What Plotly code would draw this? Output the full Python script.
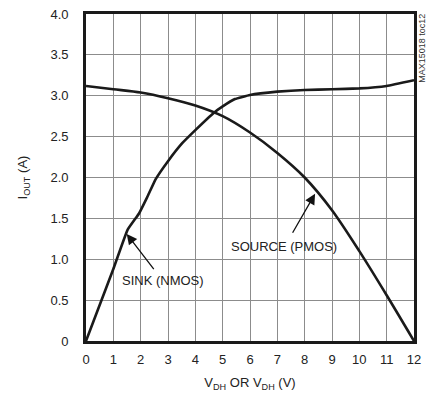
import plotly.graph_objects as go

# SOURCE (PMOS) curve
src_x = [0, 1, 2, 3, 4, 5, 6, 7, 8, 9, 10, 11, 12]
src_y = [3.12, 3.08, 3.04, 2.97, 2.88, 2.75, 2.55, 2.30, 2.00, 1.60, 1.10, 0.56, 0.0]

# SINK (NMOS) curve
snk_x = [0, 0.5, 1.0, 1.52, 1.94, 2.24, 2.55, 3.0, 3.52, 4.0, 4.67, 5.0, 5.45, 6.0, 7, 8, 9, 10, 11, 12]
snk_y = [0.0, 0.44, 0.88, 1.36, 1.56, 1.76, 1.98, 2.20, 2.42, 2.58, 2.79, 2.87, 2.96, 3.01, 3.05, 3.07, 3.08, 3.09, 3.12, 3.19]

x_ticks = list(range(0, 13))
y_ticks = [0, 0.5, 1.0, 1.5, 2.0, 2.5, 3.0, 3.5, 4.0]
y_tick_text = ["0", "0.5", "1.0", "1.5", "2.0", "2.5", "3.0", "3.5", "4.0"]

FONT = "Liberation Sans Narrow, Arial Narrow, Liberation Sans, sans-serif"

fig = go.Figure()
fig.add_trace(go.Scatter(x=src_x, y=src_y, mode="lines",
                         line=dict(color="#1a1a1a", width=2.6, shape="spline", smoothing=0.8),
                         showlegend=False, hoverinfo="skip"))
fig.add_trace(go.Scatter(x=snk_x, y=snk_y, mode="lines",
                         line=dict(color="#1a1a1a", width=2.6, shape="spline", smoothing=0.3),
                         showlegend=False, hoverinfo="skip"))

annots = [
    dict(x=1.49, y=1.31, ax=2.8, ay=0.74, axref="x", ayref="y", xref="x", yref="y",
         text="SINK (NMOS)", showarrow=True, arrowhead=2, arrowsize=1.6, arrowwidth=1.3,
         arrowcolor="#111", startstandoff=3,
         font=dict(size=13, color="#222", family=FONT)),
    dict(x=8.38, y=1.80, ax=7.26, ay=1.15, axref="x", ayref="y", xref="x", yref="y",
         text="SOURCE (PMOS)", showarrow=True, arrowhead=2, arrowsize=1.6, arrowwidth=1.3,
         arrowcolor="#111", startstandoff=6,
         font=dict(size=13, color="#222", family=FONT)),
    dict(x=1.026, y=0.895, xref="paper", yref="paper", xanchor="center", yanchor="middle",
         text="MAX15018 toc12", showarrow=False, textangle=-90,
         font=dict(size=9, color="#333", family=FONT)),
]

fig.update_layout(
    width=436, height=404,
    margin=dict(l=86, r=22, t=14, b=63),
    paper_bgcolor="white", plot_bgcolor="white",
    font=dict(family=FONT, size=13, color="#222"),
    annotations=annots,
    xaxis=dict(range=[0, 12], tickvals=x_ticks, ticktext=[str(v) for v in x_ticks],
               showgrid=True, gridcolor="#8c8c8c", gridwidth=1,
               showline=True, linecolor="#1a1a1a", linewidth=2.6, mirror=True,
               ticks="", zeroline=False, automargin=False, ticklabelstandoff=5,
               title=dict(text="V<sub>DH</sub> OR V<sub>DH</sub> (V)", standoff=12,
                          font=dict(size=13, family=FONT))),
    yaxis=dict(range=[0, 4], tickvals=y_ticks, ticktext=y_tick_text,
               showgrid=True, gridcolor="#8c8c8c", gridwidth=1,
               showline=True, linecolor="#1a1a1a", linewidth=2.6, mirror=True,
               ticks="", zeroline=False, ticklabelstandoff=12, automargin=False,
               title=dict(text="I<sub>OUT</sub> (A)", standoff=20,
                          font=dict(size=13, family=FONT))),
)

fig.write_html("out.html", config={"displayModeBar": False},
               post_script="document.body.style.margin='0';")
